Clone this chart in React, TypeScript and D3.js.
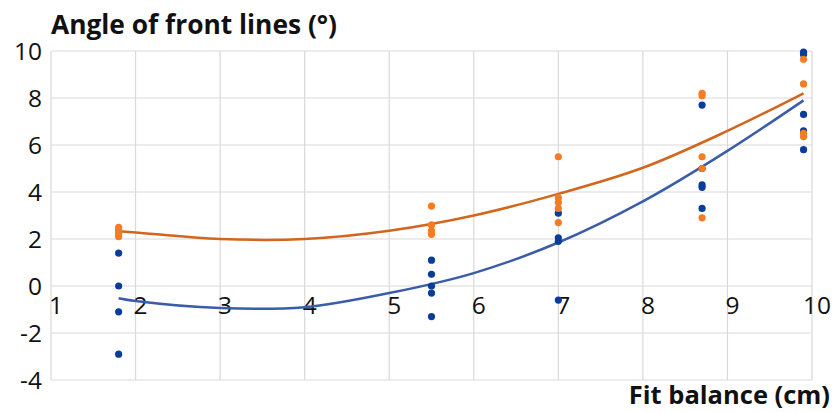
import React from 'react';
import * as d3 from 'd3';

// measured x positions (cm) of each sample group
const groupX = [1.8, 5.5, 7.0, 8.7, 9.9];

// angle readings per group, series 1 (blue) and series 2 (orange)
const blueValues = [
  [1.4, 0, -1.1, -2.9],
  [1.1, 0.5, 0, -0.3, -1.3],
  [3.1, 2.05, 1.9, -0.6],
  [7.7, 5.0, 4.3, 4.2, 3.3],
  [9.95, 9.85, 7.3, 6.6, 5.8],
];
const orangeValues = [
  [2.5, 2.4, 2.3, 2.2, 2.1],
  [3.4, 2.6, 2.35, 2.2],
  [5.5, 3.75, 3.55, 3.3, 2.7],
  [8.2, 8.1, 5.5, 5.0, 2.9],
  [9.65, 8.6, 6.5, 6.35],
];

// trend lines
const trendX = [1.8, 2, 3, 4, 5, 6, 7, 8, 9, 9.9];
const blueTrend = [-0.52, -0.64, -0.94, -0.9, -0.3, 0.55, 1.85, 3.6, 5.75, 7.9];
const orangeTrend = [2.33, 2.28, 2.0, 2.0, 2.35, 3.0, 3.92, 5.03, 6.6, 8.2];

const xTicks = [1, 2, 3, 4, 5, 6, 7, 8, 9, 10];
const yTicks = [-4, -2, 0, 2, 4, 6, 8, 10];

const W = 835;
const H = 412;
const font = '"Open Sans", "Noto Sans", sans-serif';

export default function App() {
  const x = d3.scaleLinear().domain([1, 10]).range([51, 812]);
  const y = d3.scaleLinear().domain([-4, 10]).range([380, 51]);

  const line = d3
    .line<number>()
    .x((d, i) => x(trendX[i]))
    .y(d => y(d))
    .curve(d3.curveCatmullRom);

  const pts = (vals: number[][]) =>
    vals.flatMap((g, i) => g.map(v => ({ x: groupX[i], y: v })));

  return (
    <svg width={W} height={H} style={{ position: 'absolute', left: 0, top: 0, background: '#fff' }}>
      <g stroke="#d9d9d9" strokeWidth={1.2}>
        {xTicks.map(t => (
          <line key={'gx' + t} x1={x(t)} x2={x(t)} y1={y(10)} y2={y(-4)} />
        ))}
        {yTicks.map(t => (
          <line key={'gy' + t} x1={x(1)} x2={x(10)} y1={y(t)} y2={y(t)} />
        ))}
      </g>

      <g fontFamily={font} fontSize={24.5} fill="#111">
        {yTicks.map(t => (
          <text key={'ly' + t} x={42} y={y(t)} dy="0.36em" textAnchor="end">
            {t}
          </text>
        ))}
        {xTicks.map(t => (
          <text key={'lx' + t} x={x(t) + 5} y={y(0) + 28} textAnchor="middle">
            {t}
          </text>
        ))}
      </g>

      <path d={line(blueTrend) || ''} fill="none" stroke="#3b5ca9" strokeWidth={2.5} />
      <path d={line(orangeTrend) || ''} fill="none" stroke="#d2661c" strokeWidth={2.5} />

      {pts(blueValues).map((p, i) => (
        <circle key={'b' + i} cx={x(p.x)} cy={y(p.y)} r={3.6} fill="#0b3c9c" />
      ))}
      {pts(orangeValues).map((p, i) => (
        <circle key={'o' + i} cx={x(p.x)} cy={y(p.y)} r={3.6} fill="#f57c22" />
      ))}

      <text x={51} y={34} fontFamily={font} fontSize={26} fontWeight="bold" fill="#111"
        textLength={286} lengthAdjust="spacingAndGlyphs">
        Angle of front lines (°)
      </text>
      <text x={830} y={404} fontFamily={font} fontSize={25.5} fontWeight="bold" fill="#111" textAnchor="end">
        Fit balance (cm)
      </text>
    </svg>
  );
}
